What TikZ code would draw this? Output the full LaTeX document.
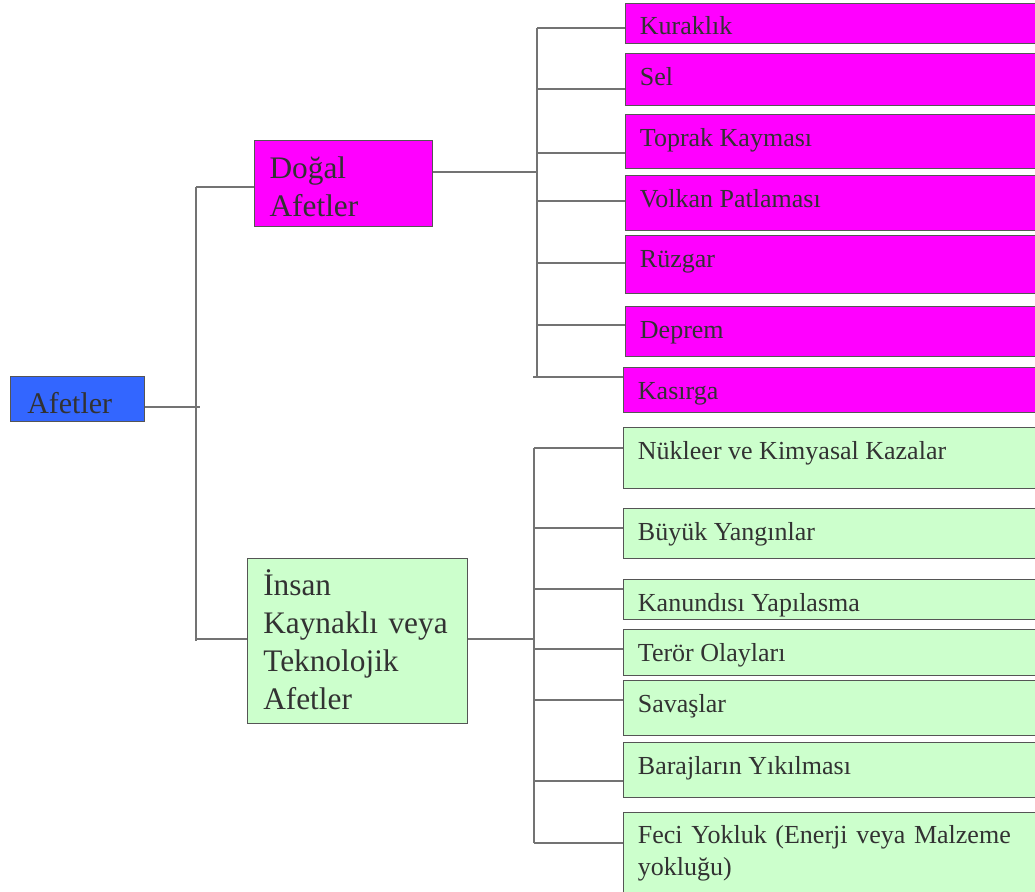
\documentclass[tikz,border=0pt]{standalone}
\usepackage{fontspec}
\setmainfont{Liberation Serif}
\usetikzlibrary{positioning}
\definecolor{afetblue}{RGB}{51,102,255}
\definecolor{afetpink}{RGB}{255,0,255}
\definecolor{afetgreen}{RGB}{204,255,204}
\definecolor{boxline}{RGB}{85,85,85}
\definecolor{connline}{RGB}{115,115,115}
\definecolor{textgray}{RGB}{50,50,50}

\begin{document}
\begin{tikzpicture}[x=0.75pt,y=-0.75pt,
    box/.style={draw=boxline, line width=1.1pt, inner sep=0pt, anchor=north west},
    pinkbox/.style={box, fill=afetpink, minimum width=320pt},
    greenbox/.style={box, fill=afetgreen, minimum width=320pt},
    leaftext/.style={anchor=base west, inner sep=0pt, xshift=11pt, yshift=-24pt,
        text=textgray, font=\fontsize{19.5}{24}\selectfont},
    midtext/.style={anchor=base west, inner sep=0pt, xshift=11.5pt, yshift=-28pt,
        text=textgray, text width=150pt, align=left, font=\fontsize{23.5}{29}\selectfont},
    conn/.style={draw=connline, line width=1.3pt}]
    \useasboundingbox (0,0) rectangle (1035,892);
    \clip (0,0) rectangle (1035,892);

    % root and the two groups
    \node[box, fill=afetblue, minimum width=100.5pt, minimum height=33.75pt,
        label={[anchor=base west, inner sep=0pt, xshift=12.75pt, yshift=-27.75pt,
        text=textgray, font=\fontsize{22.5}{27}\selectfont]north west:Afetler}] (root) at (10,376) {};
    \node[box, fill=afetpink, minimum width=133.5pt, minimum height=64.5pt,
        label={[midtext, yshift=-0.5pt]north west:Doğal\\Afetler}] (dogal) at (254,140) {};
    \node[box, fill=afetgreen, minimum width=165pt, minimum height=123.75pt,
        label={[midtext, xshift=0.5pt, yshift=0.25pt, font=\fontsize{23.5}{28.5}\selectfont]north west:İnsan\\Kaynaklı veya\\Teknolojik\\Afetler}] (insan) at (247,558) {};

    % natural disasters
    \node[pinkbox, minimum height=30pt, label={[leaftext]north west:Kuraklık}] (kurak) at (625,3) {};
    \node[pinkbox, minimum height=39pt, label={[leaftext]north west:Sel}] (sel) at (625,53) {};
    \node[pinkbox, minimum height=40.5pt, label={[leaftext]north west:Toprak Kayması}] (toprak) at (625,114) {};
    \node[pinkbox, minimum height=41.25pt, label={[leaftext]north west:Volkan Patlaması}] (volkan) at (625,175) {};
    \node[pinkbox, minimum height=43.5pt, label={[leaftext]north west:Rüzgar}] (ruzgar) at (625,235) {};
    \node[pinkbox, minimum height=37.5pt, label={[leaftext]north west:Deprem}] (deprem) at (625,306) {};
    \node[pinkbox, minimum height=33.75pt, label={[leaftext]north west:Kasırga}] (kasirga) at (623,367) {};

    % man-made disasters
    \node[greenbox, minimum height=45.75pt, label={[leaftext]north west:Nükleer ve Kimyasal Kazalar}] (nukleer) at (623,427) {};
    \node[greenbox, minimum height=37.5pt, label={[leaftext]north west:Büyük Yangınlar}] (buyuk) at (623,508) {};
    \node[greenbox, minimum height=30pt, label={[leaftext]north west:Kanundısı Yapılasma}] (kanun) at (623,579) {};
    \node[greenbox, minimum height=34.5pt, label={[leaftext]north west:Terör Olayları}] (teror) at (623,629) {};
    \node[greenbox, minimum height=41.25pt, label={[leaftext]north west:Savaşlar}] (savas) at (623,680) {};
    \node[greenbox, minimum height=41.25pt, label={[leaftext]north west:Barajların Yıkılması}] (baraj) at (623,742) {};
    \node[greenbox, minimum height=66pt, label={[leaftext, yshift=0.75pt, text width=380pt, align=left]north west:{Feci Yokluk (Enerji veya Malzeme\\yokluğu)}}] (feci) at (623,812) {};

    % trunk
    \coordinate (trtop) at (196,187);
    \coordinate (trbot) at (196,641);
    \draw[conn] (trtop) -- (trbot);
    \draw[conn] (root.east |- 0,407) -- ([xshift=3pt]trtop |- 0,407);
    \draw[conn] (trtop) -- (trtop -| dogal.west);
    \draw[conn] (trtop |- 0,639) -- (insan.west |- 0,639);

    % natural bus
    \coordinate (pbus) at (537,172);
    \draw[conn] (dogal.east |- pbus) -- (pbus);
    \draw[conn] (537,28) -- (537,377);
    \foreach \nm/\yy in {kurak/28, sel/89, toprak/153, volkan/201, ruzgar/263, deprem/325}
        \draw[conn] (537,\yy) -- (\nm.west |- 0,\yy);
    \draw[conn] (533,377) -- (kasirga.west |- 0,377);

    % man-made bus
    \coordinate (gbus) at (534,639);
    \draw[conn] (insan.east |- gbus) -- (gbus);
    \draw[conn] (534,448) -- (534,843);
    \foreach \nm/\yy in {nukleer/448, buyuk/528, kanun/589, teror/649, savas/700, baraj/781, feci/843}
        \draw[conn] (534,\yy) -- (\nm.west |- 0,\yy);
\end{tikzpicture}
\end{document}
